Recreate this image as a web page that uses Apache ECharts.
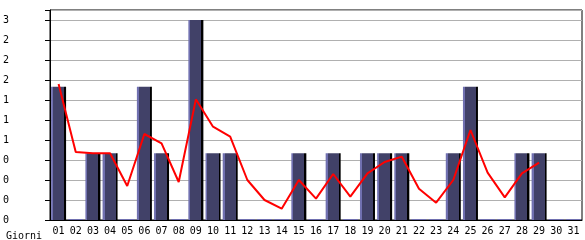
<!DOCTYPE html>
<html><head><meta charset="utf-8">
<script src="https://cdn.jsdelivr.net/npm/echarts@6/dist/echarts.min.js"></script>
<style>html,body{margin:0;padding:0;background:#fff}#c{width:585px;height:240px}</style>
</head><body><div id="c"></div>
<script>
var days = ['01','02','03','04','05','06','07','08','09','10','11','12','13','14','15','16','17','18','19','20','21','22','23','24','25','26','27','28','29','30','31'];
var visits = [2,0,1,1,0,2,1,0,3,1,1,0,0,0,1,0,1,0,1,1,1,0,0,1,2,0,0,1,1,0,0];
var trend = [2.04,1.02,1.0,1.0,0.51,1.29,1.15,0.57,1.81,1.4,1.25,0.6,0.3,0.17,0.6,0.32,0.69,0.35,0.7,0.87,0.95,0.47,0.26,0.6,1.35,0.71,0.34,0.7,0.86,'-','-'];
var font = 'DejaVu Sans Mono';
var light = '#7070b0', body = '#414168';
var grad = new echarts.graphic.LinearGradient(0,0,1,0,[
  {offset:0,color:light},{offset:0.13,color:light},{offset:0.13,color:body},
  {offset:0.87,color:body},{offset:0.87,color:'#000'},{offset:1,color:'#000'}]);
var barData = visits.map(function(v){return v===0?{value:0,itemStyle:{color:light}}:v;});
var chart = echarts.init(document.getElementById('c'));
chart.setOption({
  animation:false,
  title:{text:'Giorni',left:1,top:226,textStyle:{fontFamily:font,fontSize:10,fontWeight:'normal',color:'#000'}},
  grid:{left:50,right:3,top:10,bottom:20,show:true,borderColor:'#000',borderWidth:1,backgroundColor:'transparent'},
  xAxis:{type:'category',data:days,
    axisLine:{lineStyle:{color:'#000'}},
    axisTick:{alignWithLabel:true,length:5,lineStyle:{color:'#000'}},
    axisLabel:{fontFamily:font,fontSize:10,color:'#000',margin:6,interval:0}},
  yAxis:{type:'value',min:0,max:3.15,interval:0.3,
    axisLine:{show:true,lineStyle:{color:'#000'}},
    axisTick:{show:true,length:5,lineStyle:{color:'#000'}},
    splitLine:{lineStyle:{color:'#b0b0b0',width:1}},
    axisLabel:{fontFamily:font,fontSize:10,color:'#000',align:'left',margin:47,
      formatter:function(v){return v>3.05?'':String(Math.floor(v+1e-6));}}},
  series:[
    {type:'bar',data:barData,barWidth:15,barMinHeight:1,itemStyle:{color:grad}},
    {type:'line',data:trend,symbol:'none',lineStyle:{color:'#ff0000',width:2},z:5}
  ]
});
</script></body></html>
